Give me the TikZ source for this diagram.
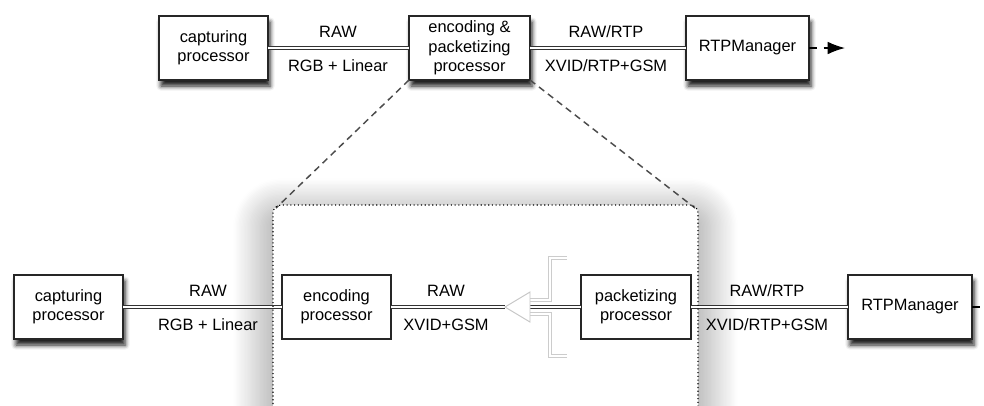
\documentclass[tikz,border=0pt]{standalone}
\usepackage{fontspec}
\setmainfont{Liberation Sans}
\usetikzlibrary{calc,arrows.meta,shadows.blur}

\begin{document}
\begin{tikzpicture}[x=0.75pt,y=-0.75pt]
\tikzstyle{proc}=[draw=black!85,outer sep=0pt,inner sep=0pt,thick,fill=white,minimum height=48pt,align=center,font=\fontsize{12.3}{14.6}\selectfont]
\tikzstyle{lifted}=[blur shadow={shadow xshift=1.5pt,shadow yshift=-4.5pt,shadow blur radius=3.5pt,shadow opacity=90}]
\tikzstyle{pipe}=[draw=black!80,line width=0.6pt,double=white,double distance=1.3pt]
\tikzstyle{ghost}=[draw=gray!40,line width=0.6pt,double=white,double distance=1.3pt]
\tikzstyle{lbl}=[inner sep=0pt,font=\fontsize{12.3}{14.6}\selectfont]
\tikzstyle{outarrow}=[draw=black,line width=1pt,dash pattern=on 6pt off 5pt,-{Latex[black,length=13pt,width=9.5pt]}]
\tikzstyle{zoomline}=[line width=1.1pt,black!70,dash pattern=on 5pt off 3.5pt]

\useasboundingbox (0,0) rectangle (984,405);

% zoomed frame
\path[fill=white,rounded corners=6pt,blur shadow={shadow xshift=0pt,shadow yshift=-10pt,shadow blur radius=30pt,shadow blur steps=30,shadow opacity=50}] (273,460) -- (273,205) -- (698,205) -- (698,460) -- cycle;
\coordinate (F1) at (276,208);
\coordinate (F2) at (695,208);

% top row
\node (C) [proc,lifted,minimum width=81.75pt] at (213.5,48) {capturing\\processor};
\node (EP) [proc,lifted,minimum width=90.75pt] at (469.5,48) {encoding \&\\packetizing\\processor};
\node (R) [proc,lifted,minimum width=92.25pt] at (747.5,48) {RTPManager};
\coordinate (out) at (845,48);

\draw [pipe] (C) -- (EP);
\draw [pipe] (EP) -- (R);
\draw [outarrow] (R) -- (out);

\node (l1) [lbl] at (338,32) {RAW};
\node (l2) [lbl] at (338,66) {RGB + Linear};
\node (l3) [lbl] at (606,32) {RAW/RTP};
\node (l4) [lbl] at (606,66) {XVID/RTP+GSM};

\draw [zoomline] (EP.south west) -- (F1);
\draw [zoomline] (EP.south east) -- (F2);

% bottom row
\node (C2) [proc,lifted,minimum width=81.75pt] at (68.5,307) {capturing\\processor};
\node (E2) [proc,minimum width=81.75pt] at (336.5,307) {encoding\\processor};
\node (P2) [proc,minimum width=82.5pt] at (636,307) {packetizing\\processor};
\node (R2) [proc,lifted,minimum width=93pt] at (910,307) {RTPManager};
\coordinate (out2) at (1002,307);
\coordinate (T) at (505,307);
\coordinate (B) at (530,307);

\draw [pipe] (C2) -- (E2);
\draw [pipe] (E2) -- (T);
\draw [pipe] (B) -- (P2);
\draw [pipe] (P2) -- (R2);
\draw [outarrow] (R2) -- (out2);

% connector glyph
\draw [ghost] (567,258) -- (550,258) -- (550,300) -- (B |- 0,300);
\draw [ghost] (567,356) -- (550,356) -- (550,314) -- (B |- 0,314);
\draw [gray!45,line width=0.7pt,fill=white] (B |- 0,292) -- (T) -- (B |- 0,322) -- cycle;

\node (l5) [lbl] at (208,291) {RAW};
\node (l6) [lbl] at (208,325) {RGB + Linear};
\node (l7) [lbl] at (446,291) {RAW};
\node (l8) [lbl] at (446,325) {XVID+GSM};
\node (l9) [lbl] at (767,291) {RAW/RTP};
\node (l10) [lbl] at (767,325) {XVID/RTP+GSM};

\draw [thick,dotted,rounded corners=6pt] (273,460) -- (273,205) -- (698,205) -- (698,460);

\end{tikzpicture}
\end{document}
